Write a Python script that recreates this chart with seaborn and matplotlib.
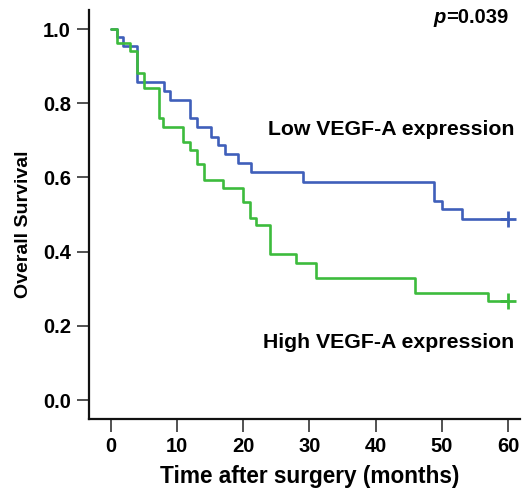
import numpy as np
import pandas as pd
import matplotlib
matplotlib.use("Agg")
import matplotlib.pyplot as plt
import seaborn as sns


# ============================================================
# ДАННЫЕ (считаны с графика Каплана-Мейера)
# ============================================================

low_time = [0, 0.9, 1.9, 4.0, 8.0, 8.9, 12.0, 13.0, 15.1, 16.2, 17.2,
            19.2, 21.1, 29.1, 48.9, 50.0, 53.0, 60.0]
low_surv = [1.0, 0.978, 0.954, 0.856, 0.832, 0.808, 0.759, 0.735, 0.710,
            0.687, 0.663, 0.640, 0.615, 0.588, 0.537, 0.514, 0.489, 0.489]

high_time = [0, 0.9, 2.9, 4.0, 5.0, 7.2, 7.9, 10.9, 11.9, 13.0, 14.0,
             17.0, 20.0, 21.0, 22.0, 24.0, 28.0, 31.0, 46.0, 57.0, 60.0]
high_surv = [1.0, 0.962, 0.942, 0.881, 0.840, 0.759, 0.737, 0.696, 0.674,
             0.636, 0.593, 0.572, 0.535, 0.490, 0.472, 0.393, 0.370, 0.330,
             0.288, 0.268, 0.268]

group_labels = ["Low VEGF-A expression", "High VEGF-A expression"]
p_value = "=0.039"
x_ticks = [0, 10, 20, 30, 40, 50, 60]
y_ticks = [0.0, 0.2, 0.4, 0.6, 0.8, 1.0]

BLUE = "#3f5fba"
GREEN = "#3dbb3d"

sns.set_style("ticks")
plt.rcParams["font.family"] = ["Liberation Sans", "DejaVu Sans"]
plt.rcParams["font.weight"] = "bold"
plt.rcParams["text.color"] = "black"
plt.rcParams["axes.labelcolor"] = "black"
plt.rcParams["xtick.labelcolor"] = "black"
plt.rcParams["ytick.labelcolor"] = "black"

fig = plt.figure(figsize=(5.23, 4.95), dpi=100)
ax = fig.add_axes([0.170, 0.1535, 0.824, 0.826])

low_df = pd.DataFrame({"time": low_time, "surv": low_surv})
high_df = pd.DataFrame({"time": high_time, "surv": high_surv})

sns.lineplot(data=low_df, x="time", y="surv", ax=ax, color=BLUE,
             drawstyle="steps-post", linewidth=1.9, estimator=None, sort=False)
sns.lineplot(data=high_df, x="time", y="surv", ax=ax, color=GREEN,
             drawstyle="steps-post", linewidth=1.9, estimator=None, sort=False)

# цензурированные наблюдения в конце
ax.plot(low_time[-1:], low_surv[-1:], marker="+", color=BLUE,
        markersize=11, markeredgewidth=2, linestyle="none")
ax.plot(high_time[-1:], high_surv[-1:], marker="+", color=GREEN,
        markersize=11, markeredgewidth=2, linestyle="none")

ax.set_xlim(-3.32, 61.8)
ax.set_ylim(-0.051, 1.051)
ax.set_xticks(x_ticks)
ax.set_yticks(y_ticks)
ax.set_yticklabels([f"{v:.1f}" for v in y_ticks])
ax.tick_params(axis="both", direction="out", length=9, width=1.2,
               labelsize=14.5, color="#333333", pad=4)
for lbl in ax.get_xticklabels() + ax.get_yticklabels():
    lbl.set_fontweight("bold")

sns.despine(ax=ax)
for side in ["left", "bottom"]:
    ax.spines[side].set_linewidth(1.6)
    ax.spines[side].set_color("#111111")

ax.set_xlabel("Time after surgery (months)", fontsize=16.3, fontweight="bold")
ax.set_ylabel("Overall Survival", fontsize=14, fontweight="bold")
ax.xaxis.set_label_coords(0.513, -0.113)
ax.yaxis.set_label_coords(-0.132, 0.477)

ax.text(61.0, 0.728, group_labels[0], ha="right", va="center",
        fontsize=15.3, fontweight="bold")
ax.text(61.0, 0.154, group_labels[1], ha="right", va="center",
        fontsize=15.3, fontweight="bold")

p_txt = ax.text(60.0, 1.03, p_value, ha="right", va="center",
                fontsize=14.5, fontweight="bold")
ax.annotate("p", xy=(0, 0.5), xycoords=p_txt, ha="right", va="center",
            fontsize=14.5, fontweight="bold", fontstyle="italic")

fig.savefig("out.png", dpi=100)
plt.close(fig)
